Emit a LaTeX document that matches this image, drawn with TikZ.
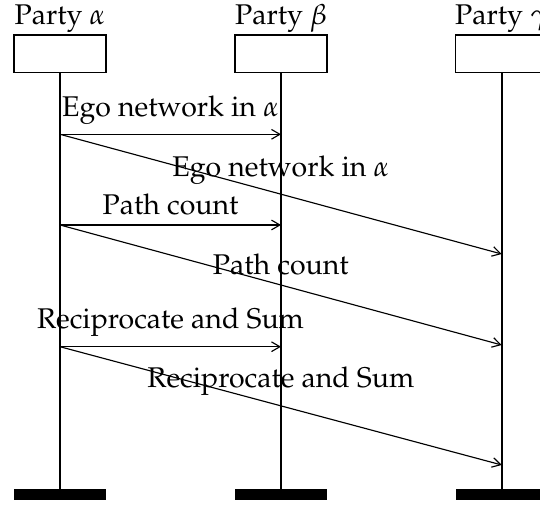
\documentclass[tikz,border=0pt]{standalone}
\usepackage[T1]{fontenc}
\usepackage{mathpazo}
\usetikzlibrary{arrows.meta,positioning}

\tikzset{
  inst/.style={draw, fill=white, minimum width=1.134cm, minimum height=0.465cm, inner sep=0pt},
  instname/.style={inner sep=0.6pt},
  instend/.style={fill=black, minimum width=1.134cm, minimum height=0.132cm, inner sep=0pt},
  mess/.style={-{Straight Barb[angle=60:3.4pt]}},
}

\begin{document}
\begin{tikzpicture}
  \useasboundingbox (0,0) rectangle (6.658,-6.251);
  % parties
  \draw
    (0.740,-0.664) node[inst] (a){}
    (3.465,-0.664) node[inst] (b){}
    (6.186,-0.664) node[inst] (c){};
  \node[instname, above=0pt of a] (aname) {Party $\alpha$};
  \node[instname, above=0pt of b] (bname) {Party $\beta$};
  \node[instname, above=0pt of c] (cname) {Party $\gamma$};
  \draw
    (0.740,-6.099) node[instend] (aend){}
    (3.465,-6.099) node[instend] (bend){}
    (6.186,-6.099) node[instend] (cend){};
  \begin{scope}[thick]
    \draw (a) to (aend);
    \draw (b) to (bend);
    \draw (c) to (cend);
  \end{scope}
  % message ends on the lifelines
  \coordinate (a1) at (0.740,-1.656);
  \coordinate (b1) at (3.465,-1.656);
  \coordinate (c1) at (6.186,-3.132);
  \coordinate (a2) at (0.740,-2.774);
  \coordinate (b2) at (3.465,-2.774);
  \coordinate (c2) at (6.186,-4.254);
  \coordinate (a3) at (0.740,-4.275);
  \coordinate (b3) at (3.465,-4.275);
  \coordinate (c3) at (6.186,-5.733);
  \begin{scope}[mess]
    \draw (a1) -- (b1) node[midway, above] {Ego network in $\alpha$};
    \draw (a1) -- (c1) node[midway, above] {Ego network in $\alpha$};
    \draw (a2) -- (b2) node[midway, above] {Path count};
    \draw (a2) -- (c2) node[midway, above] {Path count};
    \draw (a3) -- (b3) node[midway, above] {Reciprocate and Sum};
    \draw (a3) -- (c3) node[midway, above] {Reciprocate and Sum};
  \end{scope}
\end{tikzpicture}
\end{document}
